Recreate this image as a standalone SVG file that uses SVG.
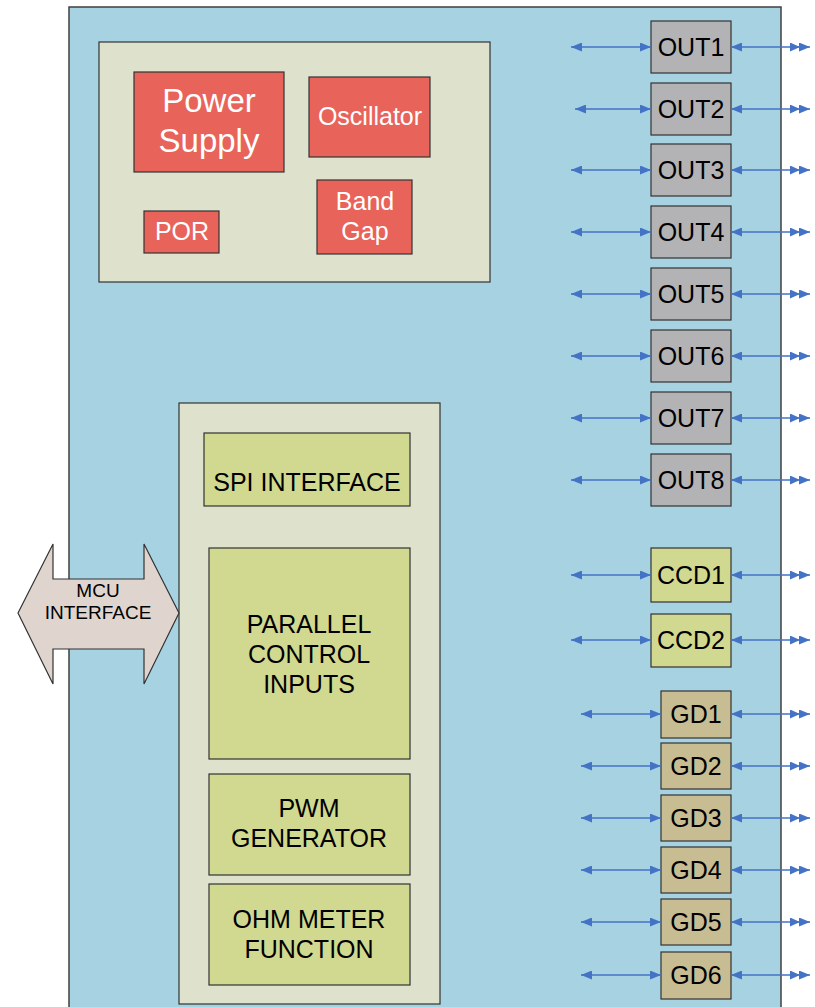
<svg xmlns="http://www.w3.org/2000/svg" width="815" height="1007" viewBox="0 0 815 1007">
<defs>
<marker id="ah" viewBox="0 0 11 9" refX="11" refY="4.5" markerWidth="11" markerHeight="9" markerUnits="userSpaceOnUse" orient="auto-start-reverse"><path d="M0,0 L11,4.5 L0,9 Z" fill="#4472C4"/></marker>
<marker id="ah2" viewBox="0 0 20 9" refX="20" refY="4.5" markerWidth="20" markerHeight="9" markerUnits="userSpaceOnUse" orient="auto"><path d="M0,0 L10,4.5 L0,9 Z M9,0 L20,4.5 L9,9 Z" fill="#4472C4"/></marker>
</defs>
<style>
.t{font-family:"Liberation Sans",Arial,sans-serif;text-anchor:middle;}
.w{fill:#fff;}
.k{fill:#000;}
.red{fill:#E8635A;stroke:#333;stroke-width:1.2;}
.grn{fill:#D1D88F;stroke:#333;stroke-width:1.2;}
.gry{fill:#B3B3B6;stroke:#333;stroke-width:1.2;}
.gd{fill:#C7BC92;stroke:#333;stroke-width:1.2;}
.pan{fill:#DEE1CC;stroke:#333;stroke-width:1.2;}
.ln{stroke:#4472C4;stroke-width:1.3;fill:none;marker-start:url(#ah);}
.l{marker-end:url(#ah);}
.r{marker-end:url(#ah2);}
</style>
<rect x="69" y="7" width="712" height="1010" fill="#A6D2E2" stroke="#404040" stroke-width="1.5"/>
<g id="top-panel"><rect class="pan" x="99" y="42" width="391" height="240"/></g>
<g id="power-supply"><rect class="red" x="134" y="72" width="150" height="100"/><text class="t w" x="209" y="112" font-size="33">Power</text><text class="t w" x="209" y="152" font-size="33">Supply</text></g>
<g id="oscillator"><rect class="red" x="309" y="77" width="121" height="80"/><text class="t w" x="370" y="125" font-size="25">Oscillator</text></g>
<g id="band-gap"><rect class="red" x="317" y="180" width="95" height="74"/><text class="t w" x="365" y="210" font-size="25">Band</text><text class="t w" x="365" y="240" font-size="25">Gap</text></g>
<g id="por"><rect class="red" x="144" y="211" width="75" height="42"/><text class="t w" x="182" y="240" font-size="25">POR</text></g>
<g id="bottom-panel"><rect class="pan" x="179" y="403" width="261" height="601"/></g>
<g id="spi"><rect class="grn" x="204" y="433" width="206" height="73"/><text class="t k" x="307" y="491" font-size="25">SPI INTERFACE</text></g>
<g id="parallel"><rect class="grn" x="209" y="548" width="201" height="211"/><text class="t k" x="309" y="633" font-size="25">PARALLEL</text><text class="t k" x="309" y="663" font-size="25">CONTROL</text><text class="t k" x="309" y="693" font-size="25">INPUTS</text></g>
<g id="pwm"><rect class="grn" x="209" y="774" width="201" height="101"/><text class="t k" x="309" y="817" font-size="25">PWM</text><text class="t k" x="309" y="847" font-size="25">GENERATOR</text></g>
<g id="ohm"><rect class="grn" x="209" y="884" width="201" height="101"/><text class="t k" x="309" y="928" font-size="25">OHM METER</text><text class="t k" x="309" y="958" font-size="25">FUNCTION</text></g>
<g id="mcu"><path d="M18,613 L53,544 L53,579 L144,579 L144,544 L179,613 L144,684 L144,649 L53,649 L53,684 Z" fill="#DFD5CE" stroke="#333" stroke-width="1.2"/><text class="t k" x="98" y="597" font-size="19">MCU</text><text class="t k" x="98" y="619" font-size="19">INTERFACE</text></g>
<g id="out1"><rect class="gry" x="651" y="21" width="80" height="52"/><text class="t k" x="691" y="56" font-size="25">OUT1</text></g>
<g id="out2"><rect class="gry" x="651" y="83" width="80" height="52"/><text class="t k" x="691" y="118" font-size="25">OUT2</text></g>
<g id="out3"><rect class="gry" x="651" y="144" width="80" height="52"/><text class="t k" x="691" y="179" font-size="25">OUT3</text></g>
<g id="out4"><rect class="gry" x="651" y="206" width="80" height="52"/><text class="t k" x="691" y="241" font-size="25">OUT4</text></g>
<g id="out5"><rect class="gry" x="651" y="268" width="80" height="52"/><text class="t k" x="691" y="303" font-size="25">OUT5</text></g>
<g id="out6"><rect class="gry" x="651" y="330" width="80" height="52"/><text class="t k" x="691" y="365" font-size="25">OUT6</text></g>
<g id="out7"><rect class="gry" x="651" y="392" width="80" height="52"/><text class="t k" x="691" y="427" font-size="25">OUT7</text></g>
<g id="out8"><rect class="gry" x="651" y="454" width="80" height="52"/><text class="t k" x="691" y="489" font-size="25">OUT8</text></g>
<g id="ccd1"><rect class="grn" x="651" y="548" width="80" height="54"/><text class="t k" x="691" y="584" font-size="25">CCD1</text></g>
<g id="ccd2"><rect class="grn" x="651" y="614" width="80" height="53"/><text class="t k" x="691" y="649" font-size="25">CCD2</text></g>
<g id="gd1"><rect class="gd" x="661" y="691" width="70" height="47"/><text class="t k" x="696" y="723" font-size="25">GD1</text></g>
<g id="gd2"><rect class="gd" x="661" y="743" width="70" height="46"/><text class="t k" x="696" y="775" font-size="25">GD2</text></g>
<g id="gd3"><rect class="gd" x="661" y="795" width="70" height="46"/><text class="t k" x="696" y="827" font-size="25">GD3</text></g>
<g id="gd4"><rect class="gd" x="661" y="847" width="70" height="46"/><text class="t k" x="696" y="879" font-size="25">GD4</text></g>
<g id="gd5"><rect class="gd" x="661" y="899" width="70" height="46"/><text class="t k" x="696" y="931" font-size="25">GD5</text></g>
<g id="gd6"><rect class="gd" x="661" y="952" width="70" height="47"/><text class="t k" x="696" y="984" font-size="25">GD6</text></g>
<g id="connectors">
<line class="ln l" x1="571" y1="47" x2="651" y2="47"/><line class="ln r" x1="731" y1="47" x2="810" y2="47"/>
<line class="ln l" x1="575" y1="109" x2="651" y2="109"/><line class="ln r" x1="731" y1="109" x2="810" y2="109"/>
<line class="ln l" x1="571" y1="170" x2="651" y2="170"/><line class="ln r" x1="731" y1="170" x2="810" y2="170"/>
<line class="ln l" x1="571" y1="232" x2="651" y2="232"/><line class="ln r" x1="731" y1="232" x2="810" y2="232"/>
<line class="ln l" x1="571" y1="294" x2="651" y2="294"/><line class="ln r" x1="731" y1="294" x2="810" y2="294"/>
<line class="ln l" x1="571" y1="356" x2="651" y2="356"/><line class="ln r" x1="731" y1="356" x2="810" y2="356"/>
<line class="ln l" x1="571" y1="418" x2="651" y2="418"/><line class="ln r" x1="731" y1="418" x2="810" y2="418"/>
<line class="ln l" x1="571" y1="480" x2="651" y2="480"/><line class="ln r" x1="731" y1="480" x2="810" y2="480"/>
<line class="ln l" x1="571" y1="575" x2="651" y2="575"/><line class="ln r" x1="731" y1="575" x2="810" y2="575"/>
<line class="ln l" x1="571" y1="640" x2="651" y2="640"/><line class="ln r" x1="731" y1="640" x2="810" y2="640"/>
<line class="ln l" x1="581" y1="714" x2="661" y2="714"/><line class="ln r" x1="731" y1="714" x2="810" y2="714"/>
<line class="ln l" x1="581" y1="766" x2="661" y2="766"/><line class="ln r" x1="731" y1="766" x2="810" y2="766"/>
<line class="ln l" x1="581" y1="818" x2="661" y2="818"/><line class="ln r" x1="731" y1="818" x2="810" y2="818"/>
<line class="ln l" x1="581" y1="870" x2="661" y2="870"/><line class="ln r" x1="731" y1="870" x2="810" y2="870"/>
<line class="ln l" x1="581" y1="922" x2="661" y2="922"/><line class="ln r" x1="731" y1="922" x2="810" y2="922"/>
<line class="ln l" x1="581" y1="975" x2="661" y2="975"/><line class="ln r" x1="731" y1="975" x2="810" y2="975"/>
</g>
</svg>
